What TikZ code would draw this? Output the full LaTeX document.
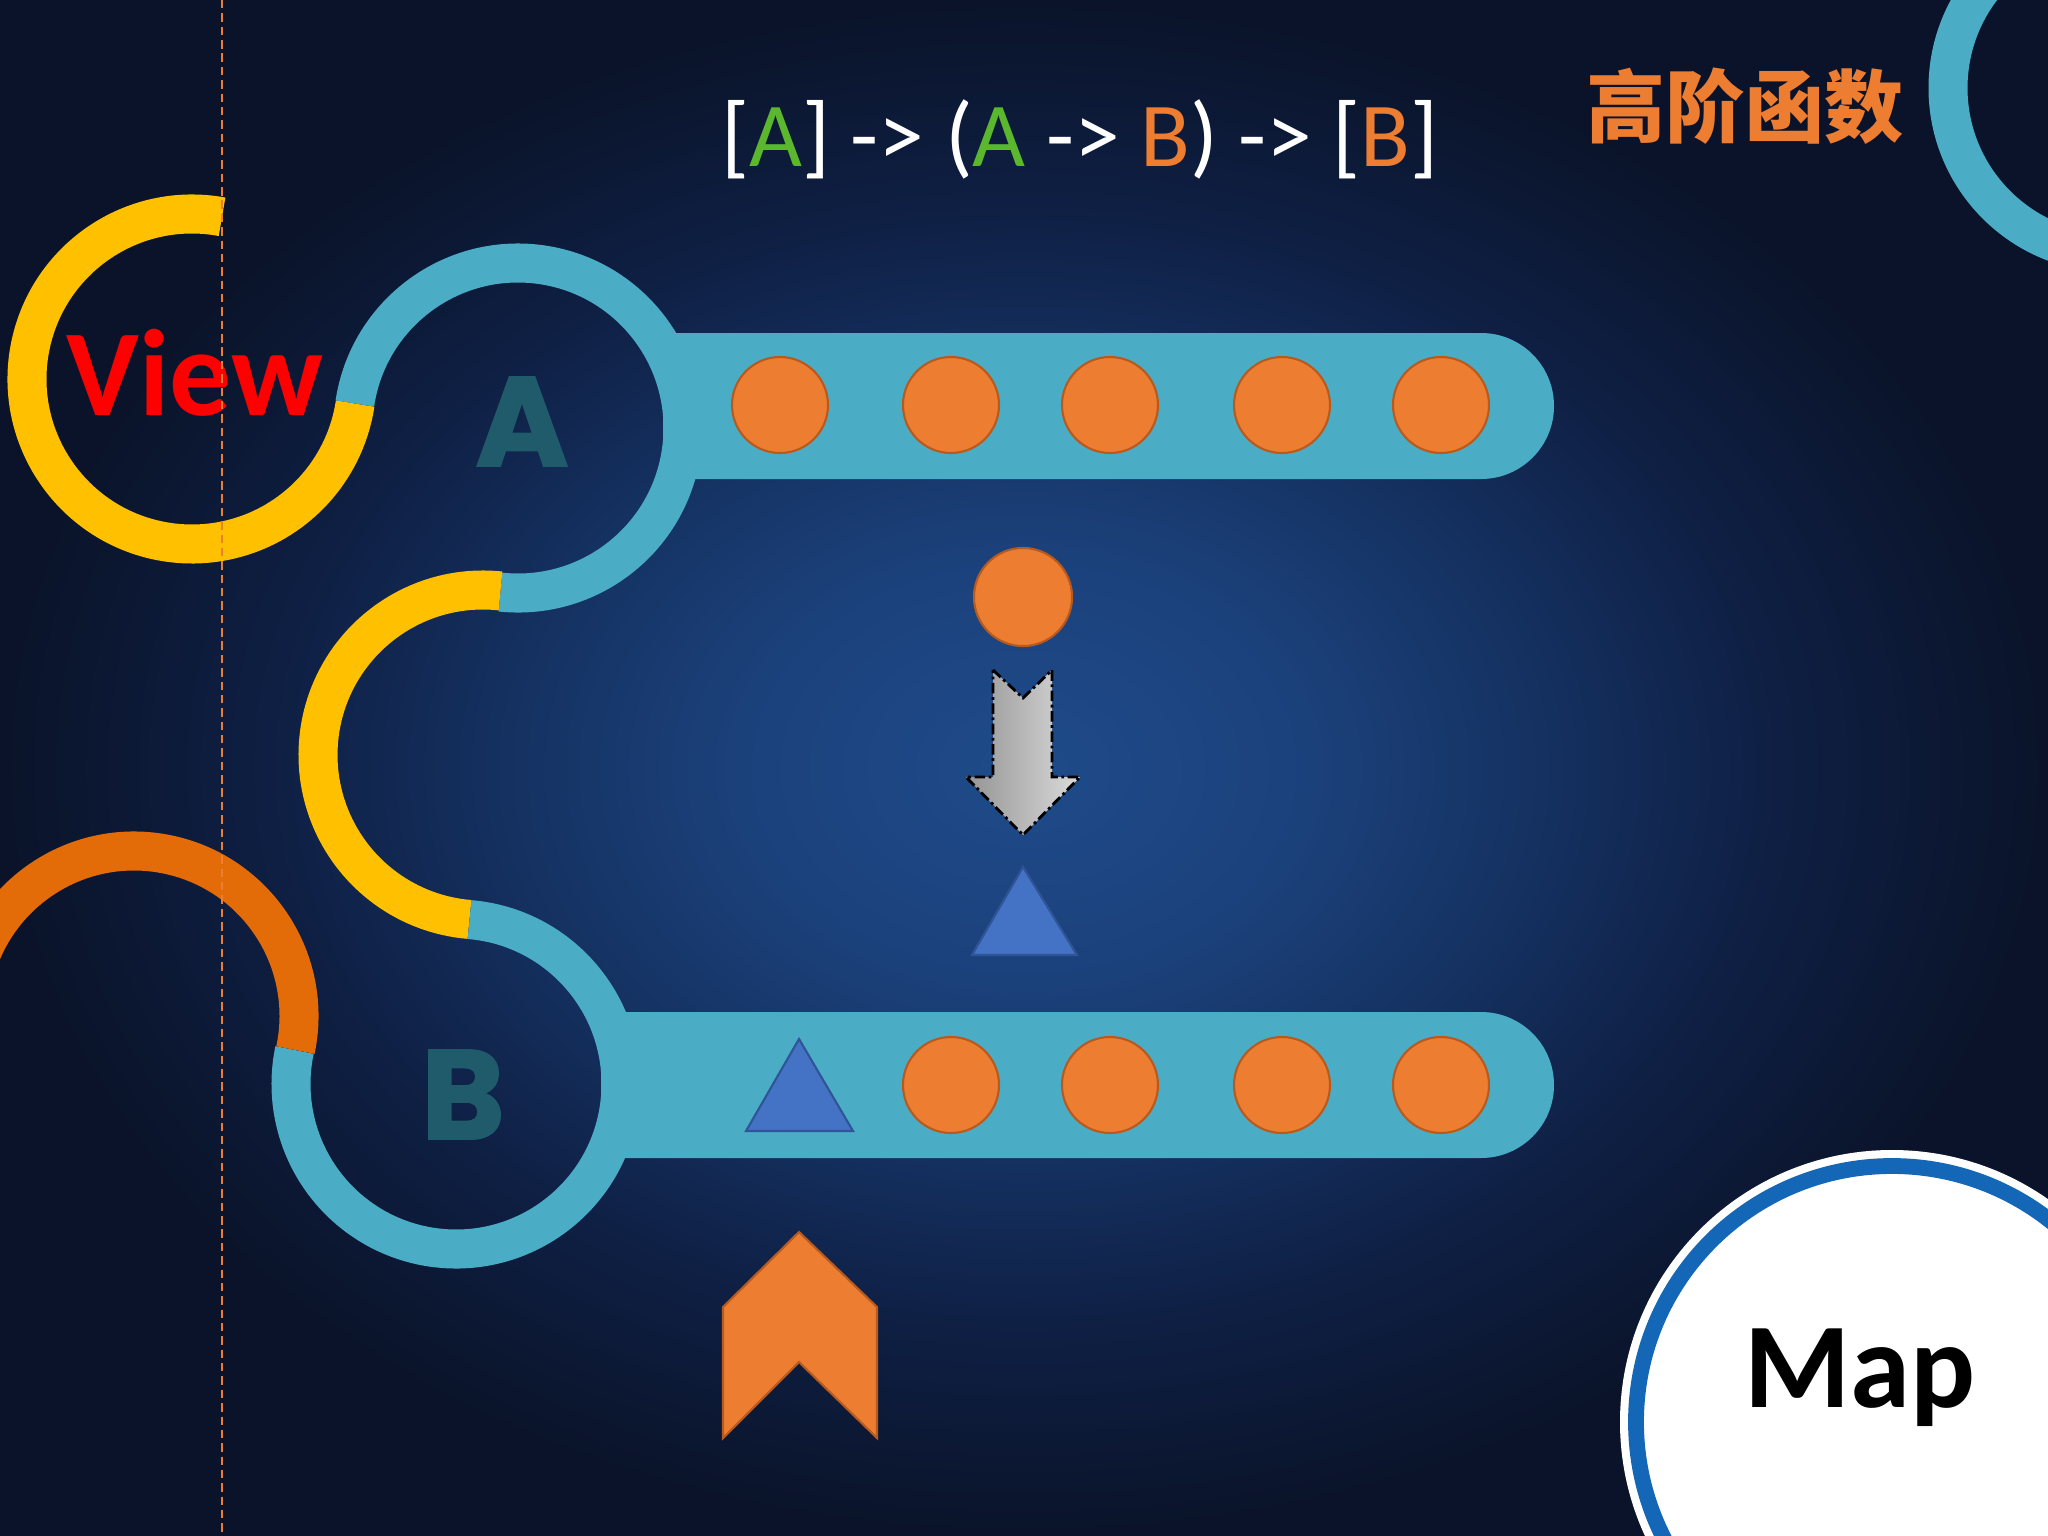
\documentclass[tikz,border=0pt]{standalone}
\usepackage{fontspec}
\usepackage{pgf,tikz}
\setmainfont{Carlito}
\newfontfamily\cjkfont{Noto Sans CJK SC}
\newfontfamily\heavyfont{Poppins}[BoldFeatures={FakeBold=1.5}]
\definecolor{bgin}{HTML}{1F4B8A}
\definecolor{bgin2}{HTML}{1B417B}
\definecolor{bgmid}{HTML}{14305F}
\definecolor{bgmid2}{HTML}{0F2045}
\definecolor{bgout}{HTML}{0A1329}
\definecolor{aqua}{HTML}{4BACC6}
\definecolor{gold}{HTML}{FFC000}
\definecolor{rust}{HTML}{E36C09}
\definecolor{dotfill}{HTML}{ED7D31}
\definecolor{dotline}{HTML}{B85A1E}
\definecolor{trifill}{HTML}{4472C4}
\definecolor{triline}{HTML}{2F5597}
\definecolor{letter}{HTML}{1F5B6B}
\definecolor{lgreen}{HTML}{5BB82E}
\definecolor{mapblue}{HTML}{1466B6}
\pgfdeclareradialshading{glow}{\pgfpoint{0bp}{0bp}}{color(0bp)=(bgin); color(7bp)=(bgin2); color(13bp)=(bgmid); color(18bp)=(bgmid2); color(25bp)=(bgout); color(50bp)=(bgout)}
\tikzstyle{ring} = [line width=11.1pt]
\tikzstyle{dot} = [circle, draw=dotline, fill=dotfill, line width=0.6pt, minimum size=27.3pt, inner sep=0pt]
\tikzstyle{tri} = [draw=triline, fill=trifill, line width=0.6pt]
\tikzstyle{letra} = [text=letter, anchor=base, inner sep=0pt, font=\heavyfont\bfseries\fontsize{36}{36}\selectfont]
\tikzstyle{tag} = [anchor=base, inner sep=0pt, font=\bfseries\fontsize{35}{35}\selectfont]

\begin{document}
\begin{tikzpicture}[x=0.01cm,y=0.01cm]
	\useasboundingbox (0,0) rectangle (2048,-1536);
	\clip (0,0) rectangle (2048,-1536);
	\shade[shading=glow] (0,0) rectangle (2048,-1536);
	\coordinate (cview) at (192,-379);
	\coordinate (ca) at (518,-428);
	\coordinate (cy) at (483,-755);
	\coordinate (cb) at (456,-1084);
	\coordinate (co) at (134,-1016);
	\coordinate (cmap) at (1892,-1422);
	\fill[aqua] (663,-333) -- (1481,-333) arc[start angle=90, end angle=-90, radius=73] -- (663,-479) -- cycle;
	\fill[aqua] (601,-1012) -- (1481,-1012) arc[start angle=90, end angle=-90, radius=73] -- (601,-1158) -- cycle;
	\draw[ring, gold] ([shift={(79.5:165)}]cview) arc[start angle=79.5, end angle=351.45, radius=165];
	\draw[ring, aqua] ([shift={(171.45:165)}]ca) arc[start angle=171.45, end angle=-96.1, radius=165];
	\draw[ring, gold] ([shift={(83.9:165)}]cy) arc[start angle=83.9, end angle=265.3, radius=165];
	\draw[ring, aqua] ([shift={(85.3:165)}]cb) arc[start angle=85.3, end angle=-191.9, radius=165];
	\draw[ring, rust] ([shift={(-11.9:165)}]co) arc[start angle=-11.9, end angle=200, radius=165];
	\draw[ring, aqua] (2113,-88) circle[radius=165];
	\node[dot] (a1) at (780,-405) {};
	\node[dot] (a2) at (951,-405) {};
	\node[dot] (a3) at (1110,-405) {};
	\node[dot] (a4) at (1282,-405) {};
	\node[dot] (a5) at (1441,-405) {};
	\node[dot] (b2) at (951,-1085) {};
	\node[dot] (b3) at (1110,-1085) {};
	\node[dot] (b4) at (1282,-1085) {};
	\node[dot] (b5) at (1441,-1085) {};
	\node[dot, minimum size=27.9pt] (single) at (1023,-597) {};
	\shadedraw[left color=black!42, middle color=black!7, right color=black!14, draw=black, line width=0.8pt, dash pattern=on 3pt off 1pt on 0.8pt off 1pt]
		(993,-670) -- (1023,-698) -- (1052,-670) -- (1052,-777) -- (1080,-777) -- (1023,-835) -- (966,-777) -- (993,-777) -- cycle;
	\draw[tri] (1023,-867) -- (1077,-955) -- (972,-955) -- cycle;
	\draw[tri] (799,-1039) -- (853,-1131) -- (746,-1131) -- cycle;
	\draw[draw=dotline, fill=dotfill, line width=0.6pt] (799,-1232) -- (877,-1307) -- (877,-1438) -- (799,-1362) -- (723,-1438) -- (723,-1307) -- cycle;
	\fill[white] (cmap) circle[radius=272];
	\draw[mapblue, line width=4.5pt] (cmap) circle[radius=256];
	\node[tag, text=black, font=\bfseries\fontsize{34.5}{34.5}\selectfont] (maplabel) at (1860,-1407) {Map};
	\node[tag, text=red] (viewlabel) at (195,-415) {View};
	\node[letra] (alabel) at (522,-466) {A};
	\node[letra] (blabel) at (463,-1139) {B};
	\node[anchor=base, text=white, inner sep=0pt, font=\fontsize{26}{26}\selectfont] (formula) at (1080,-166)
		{[\textcolor{lgreen}{A}] -> (\textcolor{lgreen}{A} -> \textcolor{dotfill}{B}) -> [\textcolor{dotfill}{B}]};
	\node[text=dotfill, inner sep=0pt, font=\cjkfont\bfseries\fontsize{22.5}{22.5}\selectfont] (hof) at (1745,-106) {高阶函数};
	\draw[dotfill, line width=0.6pt, dash pattern=on 2.4pt off 1.4pt] (222,0) -- (222,-1536);
\end{tikzpicture}
\end{document}
